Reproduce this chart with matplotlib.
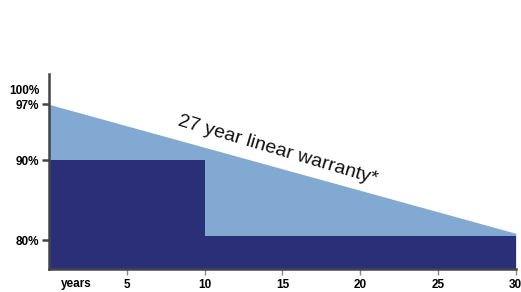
import numpy as np
import matplotlib.pyplot as plt

plt.rcParams['font.family'] = ['Liberation Sans', 'DejaVu Sans']

# warranty curve (linear) and guaranteed step levels
linear_years = [0, 30]
linear_power = [97.0, 80.9]
step_years = [0, 10, 10, 30]
step_power = [90.0, 90.0, 80.6, 80.6]

x_ticks = [5, 10, 15, 20, 25, 30]
x_ticklabels = ['5', '10', '15', '20', '25', '30']
y_ticks = [80, 90, 97]
y_ticklabels = ['80%', '90%', '97%']

LIGHT = '#82a9d2'
DARK = '#2a2f77'
AXIS = '#444444'
YMIN, YMAX = 76.45, 100.8

fig = plt.figure(figsize=(5.21, 2.92), dpi=100)
ax = fig.add_axes([0.094, 0.079, 0.896, 0.668])

ax.fill_between(linear_years, YMIN, linear_power, color=LIGHT, lw=0)
ax.fill_between(step_years, YMIN, step_power, color=DARK, lw=0)

ax.set_xlim(0, 30)
ax.set_ylim(YMIN, YMAX)

for side in ['top', 'right']:
    ax.spines[side].set_visible(False)
for side in ['left', 'bottom']:
    ax.spines[side].set_color(AXIS)
    ax.spines[side].set_linewidth(1.8)
    ax.spines[side].set_zorder(5)

ax.set_xticks(x_ticks)
ax.set_xticklabels(x_ticklabels, fontsize=8.5, fontweight='bold')
ax.set_yticks(y_ticks)
ax.set_yticklabels(y_ticklabels, fontsize=8.5, fontweight='bold')
ax.tick_params(axis='x', length=4, width=1, color='#888888', pad=3)
ax.tick_params(axis='y', length=5, width=1.8, color=AXIS, pad=2)

ax.text(1.75, -0.045, 'years', transform=ax.get_xaxis_transform(),
        ha='center', va='top', fontsize=8.5, fontweight='bold')
ax.text(-0.6, 98.7, '100%', ha='right', va='center',
        fontsize=8.5, fontweight='bold')

ax.text(14.7, 91.3, '27 year linear warranty*', rotation=-16.5,
        rotation_mode='anchor', ha='center', va='center', fontsize=14,
        color='#111111')

fig.savefig('out.png', dpi=100)
